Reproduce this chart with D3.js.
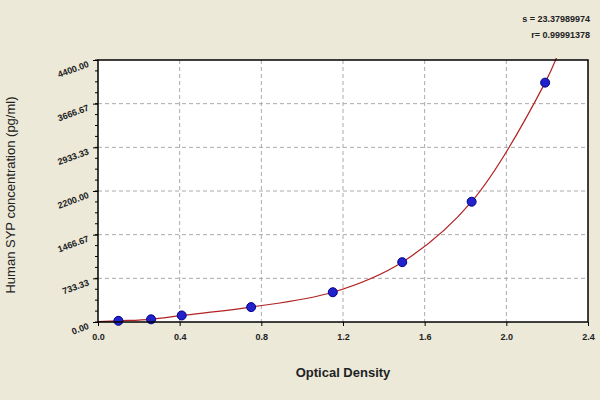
<!DOCTYPE html><html><head><meta charset="utf-8"><script src="https://cdn.jsdelivr.net/npm/d3@7"></script>
<style>body{margin:0;background:#ece9d8}</style></head><body><svg id="c" width="600" height="400"></svg>
<script>
const xTicks=[0.0,0.4,0.8,1.2,1.6,2.0,2.4];
const yTicks=[0,733.33,1466.67,2200,2933.33,3666.67,4400];
const yTickLabels=["0.00","733.33","1466.67","2200.00","2933.33","3666.67","4400.00"];
const od=[0.10,0.26,0.41,0.75,1.15,1.49,1.83,2.19];
const conc=[20,45,110,250,500,1005,2020,4020];
const curveX=[0.0,0.10,0.26,0.41,0.75,1.15,1.49,1.83,2.19,2.27];
const curveY=[5,20,45,110,250,500,1005,2020,4020,4650];
const svg=d3.select("#c");
const m={l:98,r:588,t:60,b:322};
svg.append("rect").attr("width",600).attr("height",400).attr("fill","#ece9d8");
const x=d3.scaleLinear().domain([0,2.4]).range([m.l,m.r]);
const y=d3.scaleLinear().domain([0,4400]).range([m.b,m.t]);
svg.append("rect").attr("x",m.l).attr("y",m.t).attr("width",m.r-m.l).attr("height",m.b-m.t).attr("fill","#fff");
const g=svg.append("g");
g.selectAll(".vg").data(xTicks.slice(1,-1)).join("line").attr("x1",d=>x(d)).attr("x2",d=>x(d)).attr("y1",m.t).attr("y2",m.b).attr("stroke","#aaa").attr("stroke-dasharray","4,3");
g.selectAll(".hg").data(yTicks.slice(1,-1)).join("line").attr("y1",d=>y(d)).attr("y2",d=>y(d)).attr("x1",m.l).attr("x2",m.r).attr("stroke","#aaa").attr("stroke-dasharray","4,3");
svg.append("clipPath").attr("id","cp").append("rect").attr("x",m.l).attr("y",m.t-2).attr("width",m.r-m.l).attr("height",m.b-m.t+4);
const line=d3.line().x((d,i)=>x(curveX[i])).y(d=>y(d)).curve(d3.curveCatmullRom);
svg.append("path").attr("d",line(curveY)).attr("fill","none").attr("stroke","#b22222").attr("stroke-width",1.2).attr("clip-path","url(#cp)");
svg.selectAll(".pt").data(od).join("circle").attr("cx",d=>x(d)).attr("cy",(d,i)=>y(conc[i])).attr("r",4.5).attr("fill","#2222cc").attr("stroke","#000088");
svg.append("rect").attr("x",m.l).attr("y",m.t).attr("width",m.r-m.l).attr("height",m.b-m.t).attr("fill","none").attr("stroke","#000").attr("stroke-width",1.5);
const xa=svg.append("g").attr("transform",`translate(0,${m.b})`).call(d3.axisBottom(x).tickValues(xTicks).tickFormat(d3.format(".1f")).tickSize(4));
xa.select(".domain").remove();
xa.selectAll("text").attr("font-family","Arial").attr("font-size",9).attr("font-weight","bold").attr("fill","#222").attr("dy","1.2em");
const ya=svg.append("g").attr("transform",`translate(${m.l},0)`).call(d3.axisLeft(y).tickValues(yTicks).tickFormat((d,i)=>yTickLabels[i]).tickSize(5));
ya.select(".domain").remove();
ya.selectAll("text").attr("font-family","Arial").attr("font-size",9).attr("font-weight","bold").attr("fill","#222").attr("transform","rotate(-20)").attr("dx","-2");
const minor=d3.range(0,4400,733.33/4);
svg.selectAll(".mt").data(minor).join("line").attr("x1",m.l-3).attr("x2",m.l).attr("y1",d=>y(d)).attr("y2",d=>y(d)).attr("stroke","#000");
svg.append("text").attr("x",(m.l+m.r)/2).attr("y",377).attr("text-anchor","middle").attr("font-family","Arial").attr("font-size",13).attr("font-weight","bold").attr("fill","#222").text("Optical Density");
svg.append("text").attr("transform","translate(15,195) rotate(-90)").attr("text-anchor","middle").attr("font-family","Arial").attr("font-size",13).attr("fill","#222").text("Human SYP concentration (pg/ml)");
svg.append("text").attr("x",590).attr("y",22).attr("text-anchor","end").attr("font-family","Arial").attr("font-size",9).attr("font-weight","bold").attr("fill","#222").text("s = 23.37989974");
svg.append("text").attr("x",590).attr("y",38).attr("text-anchor","end").attr("font-family","Arial").attr("font-size",9).attr("font-weight","bold").attr("fill","#222").text("r= 0.99991378");
</script></body></html>
